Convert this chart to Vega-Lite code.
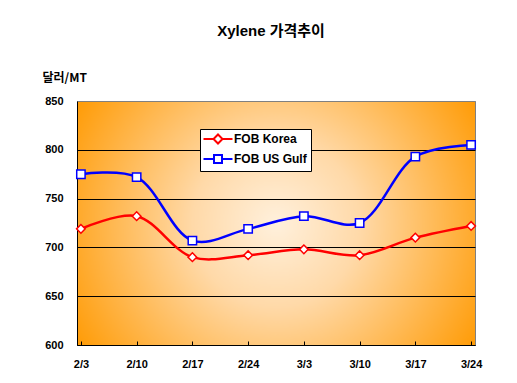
{
  "$schema": "https://vega.github.io/schema/vega-lite/v6.json",
  "autosize": "none",
  "width": 398,
  "height": 244,
  "padding": {"left": 77, "top": 101, "right": 42, "bottom": 38},
  "background": "white",
  "title": {
    "text": "Xylene 가격추이",
    "font": "Liberation Sans, Noto Sans CJK KR",
    "fontSize": 15,
    "fontWeight": "bold",
    "color": "black",
    "anchor": "middle",
    "frame": "group",
    "offset": 32,
    "dx": -5
  },
  "config": {
    "font": "Liberation Sans, Noto Sans CJK KR",
    "view": {
      "stroke": "#808080",
      "strokeWidth": 1,
      "fill": {
        "gradient": "radial",
        "x1": 0.5, "y1": 0.5, "r1": 0,
        "x2": 0.5, "y2": 0.5, "r2": 0.6,
        "stops": [
          {"offset": 0, "color": "#FFF0DC"},
          {"offset": 0.35, "color": "#FFD9A8"},
          {"offset": 1, "color": "#FF9900"}
        ]
      }
    },
    "legend": {
      "title": null,
      "orient": "none",
      "legendX": 123,
      "legendY": 28,
      "fillColor": "white",
      "strokeColor": "black",
      "padding": 4,
      "rowPadding": 3,
      "symbolSize": 100,
      "symbolOffset": 8,
      "symbolStrokeWidth": 2,
      "symbolFillColor": "white",
      "labelFont": "Liberation Sans",
      "labelFontSize": 12,
      "labelFontWeight": "bold",
      "labelColor": "black",
      "labelOffset": 10
    }
  },
  "data": {
    "values": [
      {"date": "2/3", "series": "FOB Korea", "price": 719},
      {"date": "2/10", "series": "FOB Korea", "price": 732},
      {"date": "2/17", "series": "FOB Korea", "price": 690},
      {"date": "2/24", "series": "FOB Korea", "price": 692},
      {"date": "3/3", "series": "FOB Korea", "price": 698},
      {"date": "3/10", "series": "FOB Korea", "price": 692},
      {"date": "3/17", "series": "FOB Korea", "price": 710},
      {"date": "3/24", "series": "FOB Korea", "price": 722},
      {"date": "2/3", "series": "FOB US Gulf", "price": 775},
      {"date": "2/10", "series": "FOB US Gulf", "price": 772},
      {"date": "2/17", "series": "FOB US Gulf", "price": 707},
      {"date": "2/24", "series": "FOB US Gulf", "price": 719},
      {"date": "3/3", "series": "FOB US Gulf", "price": 732},
      {"date": "3/10", "series": "FOB US Gulf", "price": 725},
      {"date": "3/17", "series": "FOB US Gulf", "price": 793},
      {"date": "3/24", "series": "FOB US Gulf", "price": 805}
    ]
  },
  "encoding": {
    "x": {
      "field": "date",
      "type": "ordinal",
      "sort": ["2/3", "2/10", "2/17", "2/24", "3/3", "3/10", "3/17", "3/24"],
      "scale": {"type": "point", "padding": 0.07},
      "axis": {
        "title": null,
        "labelAngle": 0,
        "labelFont": "Liberation Sans",
        "labelFontSize": 11,
        "labelFontWeight": "bold",
        "labelColor": "black",
        "labelPadding": 17,
        "domainColor": "black",
        "domainWidth": 1,
        "tickColor": "black",
        "tickSize": -4,
        "grid": false
      }
    },
    "y": {
      "field": "price",
      "type": "quantitative",
      "scale": {"domain": [600, 850], "nice": false, "zero": false},
      "axis": {
        "values": [600, 650, 700, 750, 800, 850],
        "title": "달러/MT",
        "titleAngle": 0,
        "titleAlign": "left",
        "titleBaseline": "middle",
        "titleX": -35,
        "titleY": -24,
        "titleFont": "Noto Sans CJK KR",
        "titleFontSize": 12,
        "titleFontWeight": "bold",
        "titleColor": "black",
        "labelFont": "Liberation Sans",
        "labelFontSize": 11,
        "labelFontWeight": "bold",
        "labelColor": "black",
        "labelPadding": 14,
        "ticks": false,
        "domainColor": "black",
        "grid": true,
        "gridColor": {"condition": {"test": "datum.value == 850", "value": "#808080"}, "value": "black"},
        "gridWidth": 1,
        "gridOpacity": 1
      }
    },
    "stroke": {
      "field": "series",
      "type": "nominal",
      "scale": {"domain": ["FOB Korea", "FOB US Gulf"], "range": ["#FF0000", "#0000FF"]}
    }
  },
  "layer": [
    {
      "mark": {"type": "line", "interpolate": "catmull-rom", "strokeWidth": 2.5}
    },
    {
      "transform": [{"filter": "datum.series === 'FOB Korea'"}],
      "mark": {"type": "point", "shape": "diamond", "filled": false, "fill": "white", "fillOpacity": 1, "opacity": 1, "strokeWidth": 1.5, "size": 75}
    },
    {
      "transform": [{"filter": "datum.series === 'FOB US Gulf'"}],
      "mark": {"type": "point", "shape": "square", "filled": false, "fill": "white", "fillOpacity": 1, "opacity": 1, "strokeWidth": 1.5, "size": 70}
    },
    {
      "transform": [{"filter": "false"}],
      "mark": {"type": "point", "filled": false, "fill": "white", "strokeWidth": 2},
      "encoding": {
        "shape": {
          "field": "series",
          "type": "nominal",
          "scale": {
            "domain": ["FOB Korea", "FOB US Gulf"],
            "range": [
              "M-2.9,0H-0.9M0.9,0H2.9M0,-0.9L0.9,0L0,0.9L-0.9,0Z",
              "M-2.9,0H-0.8M0.8,0H2.9M-0.8,-0.8H0.8V0.8H-0.8Z"
            ]
          }
        }
      }
    }
  ]
}
